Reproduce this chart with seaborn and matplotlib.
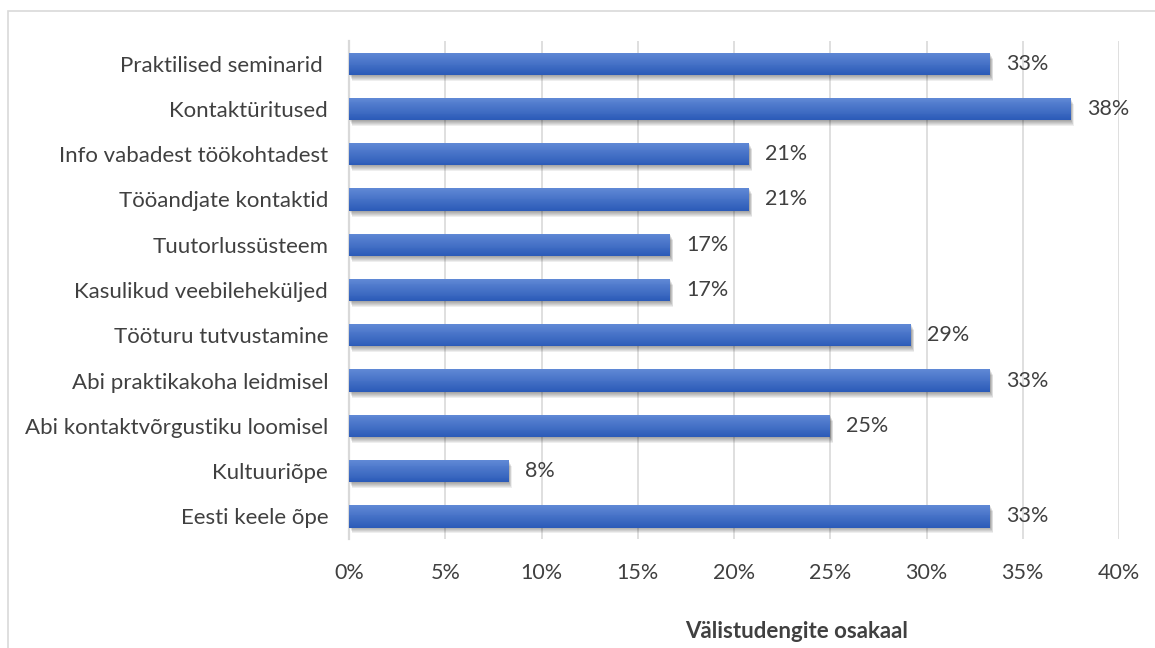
import numpy as np
import pandas as pd
import matplotlib
matplotlib.use("Agg")
import matplotlib.pyplot as plt
import matplotlib.patches as mpatches
import matplotlib.transforms as mtransforms
from matplotlib.colors import to_rgb
import seaborn as sns

categories = [
    "Praktilised seminarid ",
    "Kontaktüritused",
    "Info vabadest töökohtadest",
    "Tööandjate kontaktid",
    "Tuutorlussüsteem",
    "Kasulikud veebileheküljed",
    "Tööturu tutvustamine",
    "Abi praktikakoha leidmisel",
    "Abi kontaktvõrgustiku loomisel",
    "Kultuuriõpe",
    "Eesti keele õpe",
]
shares = [33.3, 37.5, 20.8, 20.8, 16.7, 16.7, 29.2, 33.3, 25.0, 8.3, 33.3]
x_ticks = [0, 5, 10, 15, 20, 25, 30, 35, 40]
x_label = "Välistudengite osakaal"

df = pd.DataFrame({"category": categories, "share": shares})

sns.set_theme(style="white")
FONT = ["Lato", "DejaVu Sans"]
plt.rcParams["font.family"] = FONT

TEXT = "#404040"
GRID = "#d9d9d9"
BAR_TOP = "#5f88d5"
BAR_BOTTOM = "#2c5bb8"

fig = plt.figure(figsize=(11.55, 6.48), dpi=100)
ax = fig.add_axes([349 / 1155, 1 - 539 / 648, 770 / 1155, 498 / 648])

sns.barplot(data=df, x="share", y="category", orient="h", color=BAR_BOTTOM,
            width=0.49, saturation=1, ax=ax, zorder=3)
bars = list(ax.patches)

ax.set_xlim(0, 40)
ax.set_ylim(10.5, -0.5)
ax.set_xticks(x_ticks)
ax.set_xticklabels([f"{t}%" for t in x_ticks])
ax.set_xlabel("")
ax.set_ylabel("")
ax.grid(axis="x", color=GRID, linewidth=1.2, zorder=0)
ax.set_axisbelow(True)
for side in ["top", "right", "bottom"]:
    ax.spines[side].set_visible(False)
ax.spines["left"].set_color(GRID)
ax.spines["left"].set_linewidth(1.6)
ax.spines["left"].set_zorder(1)
ax.tick_params(axis="x", length=0, pad=17, labelsize=15.5, labelcolor=TEXT)
ax.tick_params(axis="y", length=0, pad=15, labelsize=16, labelcolor=TEXT)

# each bar: soft drop shadow, then a vertical gradient (light upper edge,
# dark lower edge) made of thin strips over the seaborn bar's footprint
c_top = np.array(to_rgb(BAR_TOP))
c_bot = np.array(to_rgb(BAR_BOTTOM))
n_strips = 24
for patch, val in zip(bars, shares):
    x0, w, h = patch.get_x(), patch.get_width(), patch.get_height()
    y_up = min(patch.get_y(), patch.get_y() + h)   # upper edge on the inverted axis
    h = abs(h)
    patch.set_facecolor("none")
    patch.set_edgecolor("none")
    for k in range(6):
        off = mtransforms.offset_copy(ax.transData, fig=fig,
                                      x=0.5 * (k + 1), y=-(k + 1.0),
                                      units="dots")
        ax.add_patch(mpatches.Rectangle((x0, y_up), w, h, transform=off,
                                        facecolor="black", alpha=0.065,
                                        edgecolor="none", zorder=2))
    for i in range(n_strips):
        t = i / (n_strips - 1)
        col = c_top * (1 - t) + c_bot * t
        ax.add_patch(mpatches.Rectangle((x0, y_up + i * h / n_strips), w,
                                        h / n_strips * 1.05, facecolor=col,
                                        edgecolor="none", zorder=4))
    ax.annotate(f"{val:.0f}%", xy=(x0 + w, y_up + h / 2), xytext=(11.5, 0),
                textcoords="offset points", ha="left", va="center",
                fontsize=15.5, color=TEXT, zorder=5)

fig.text(797 / 1155, 1 - 632 / 648, x_label, ha="center", va="center",
         fontsize=16, fontweight="bold", color=TEXT)

# light frame around the chart area
frame = mpatches.Rectangle((8 / 1155, -0.05), 1.1, 1 - 11 / 648 + 0.05,
                           transform=fig.transFigure, fill=False,
                           edgecolor=GRID, linewidth=1.2)
fig.patches.append(frame)

fig.savefig("out.png", dpi=100)
